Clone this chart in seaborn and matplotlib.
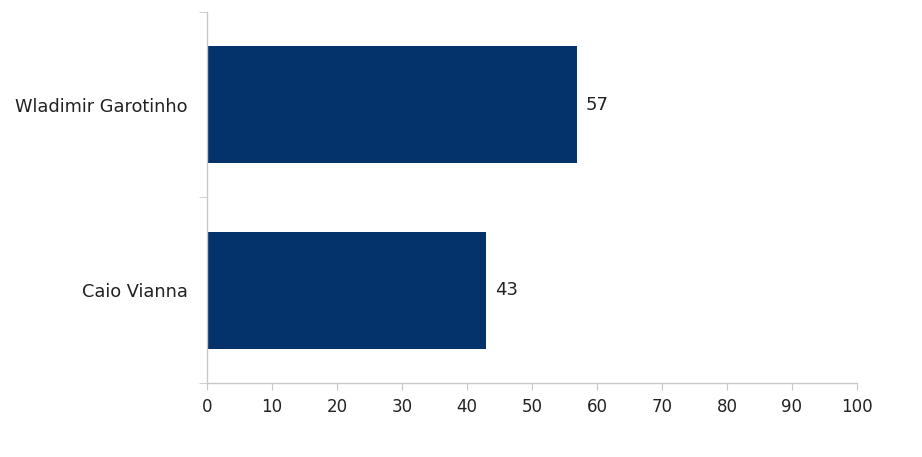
import matplotlib
matplotlib.use('Agg')
import matplotlib.pyplot as plt
import seaborn as sns
import pandas as pd

# Data
candidates = ['Wladimir Garotinho', 'Caio Vianna']
votes = [57, 43]
x_ticks = list(range(0, 101, 10))

df = pd.DataFrame({'candidate': candidates, 'votes': votes})

sns.set_style('white')
plt.rcParams['font.family'] = ['DejaVu Sans']

fig = plt.figure(figsize=(9.22, 4.57), dpi=100)
ax = fig.add_axes([0.2245, 0.162, 0.705, 0.812])

sns.barplot(data=df, x='votes', y='candidate', order=candidates,
            color='#03336A', saturation=1, width=0.63, linewidth=0, ax=ax)

# value labels
for i, v in enumerate(votes):
    ax.text(v + 1.3, i, str(v), va='center', ha='left', fontsize=13, color='#222222')

ax.set_xlim(0, 100)
ax.set_ylim(1.5, -0.5)
ax.set_xticks(x_ticks)
ax.set_xlabel('')
ax.set_ylabel('')

# spines
for s in ['top', 'right']:
    ax.spines[s].set_visible(False)
for s in ['left', 'bottom']:
    ax.spines[s].set_color('#c8c8c8')
    ax.spines[s].set_linewidth(1)

ax.tick_params(axis='x', bottom=True, length=5, color='#c8c8c8', labelsize=12,
               labelcolor='#222222', pad=6)
ax.tick_params(axis='y', which='major', left=False, length=0, labelsize=12.8,
               labelcolor='#222222', pad=14)
ax.set_yticks([-0.5, 0.5, 1.5], minor=True)
ax.tick_params(axis='y', which='minor', left=True, length=6, color='#c8c8c8')

fig.savefig('out.png', dpi=100)
